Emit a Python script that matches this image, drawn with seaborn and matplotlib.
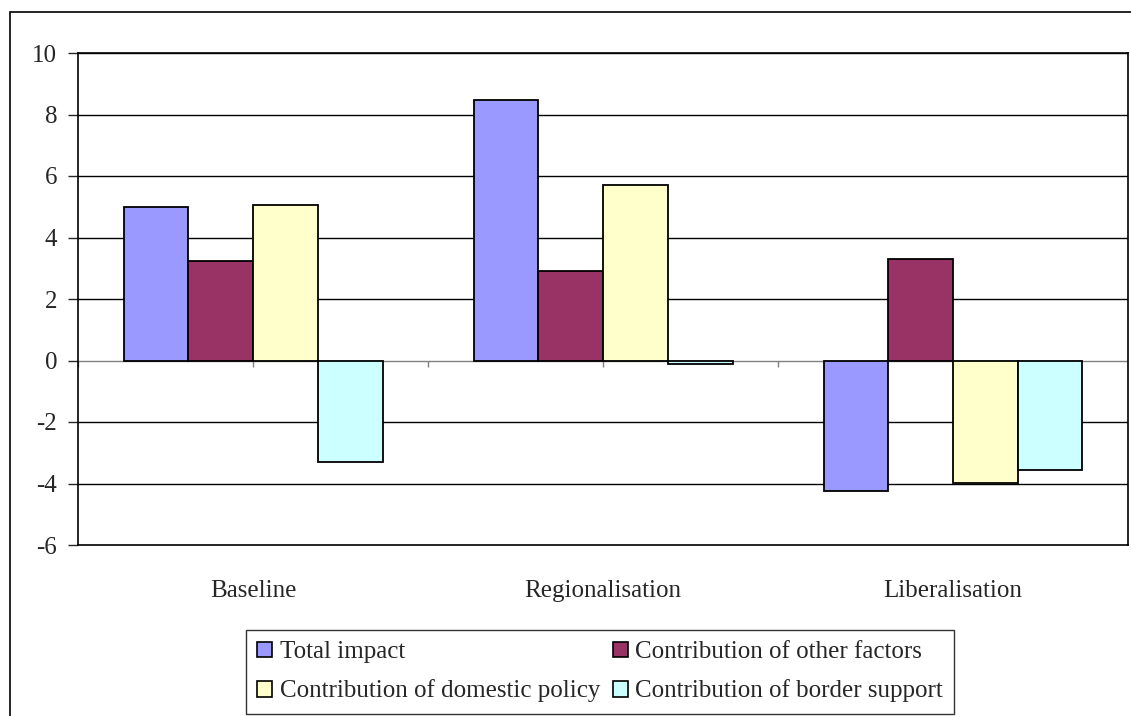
import matplotlib
matplotlib.use("Agg")
import matplotlib.pyplot as plt
import numpy as np
import pandas as pd
import seaborn as sns
from matplotlib.patches import Patch, Rectangle

scenarios = ["Baseline", "Regionalisation", "Liberalisation"]
series = [
    "Total impact",
    "Contribution of other factors",
    "Contribution of domestic policy",
    "Contribution of border support",
]
total_impact = [4.98, 8.47, -4.23]
other_factors = [3.22, 2.90, 3.29]
domestic_policy = [5.05, 5.70, -3.97]
border_support = [-3.29, -0.13, -3.55]
colors = ["#9999FF", "#993366", "#FFFFCC", "#CCFFFF"]
y_ticks = [-6, -4, -2, 0, 2, 4, 6, 8, 10]

values = [total_impact, other_factors, domestic_policy, border_support]
df = pd.DataFrame(
    [
        {"scenario": sc, "series": s, "value": v}
        for s, vals in zip(series, values)
        for sc, v in zip(scenarios, vals)
    ]
)

sns.set_style("white")
plt.rcParams["font.family"] = ["Liberation Serif", "DejaVu Serif"]
plt.rcParams["axes.unicode_minus"] = False

fig = plt.figure(figsize=(11.31, 7.16), dpi=100)
ax = fig.add_axes([78 / 1131, 1 - 545 / 716, (1128 - 78) / 1131, (545 - 53) / 716])

# gridlines behind bars
for t in y_ticks[1:]:
    ax.axhline(t, color="black" if t != 0 else "#808080", linewidth=1, zorder=0)

sns.barplot(
    data=df,
    x="scenario",
    y="value",
    hue="series",
    hue_order=series,
    order=scenarios,
    palette=colors,
    width=0.74,
    edgecolor="black",
    linewidth=1.3,
    saturation=1,
    legend=False,
    ax=ax,
    zorder=2,
)

# small category tick marks sitting on the zero line
ax.vlines(np.arange(-0.5, 2.6, 0.5), -0.22, 0, color="#808080", linewidth=1, zorder=1)

ax.set_xlim(-0.5, 2.5)
ax.set_ylim(-6, 10)
ax.set_yticks(y_ticks)
ax.set_xlabel("")
ax.set_ylabel("")
ax.tick_params(axis="x", length=0, pad=25, labelsize=18)
ax.tick_params(axis="y", length=7, width=1, direction="out", left=True, pad=8, labelsize=18)
for sp in ax.spines.values():
    sp.set_color("black")
    sp.set_linewidth(1.2)

# legend is filled column by column, so order for row-wise reading
order = [0, 2, 1, 3]
handles = [Patch(facecolor=colors[i], edgecolor="black", linewidth=1.2) for i in order]
labels = [series[i] for i in order]
fig.legend(
    handles,
    labels,
    loc="upper left",
    bbox_to_anchor=(246 / 1131, 1 - 630 / 716),
    ncol=2,
    fontsize=18,
    frameon=True,
    fancybox=False,
    edgecolor="black",
    handlelength=0.6,
    handleheight=0.6,
    handletextpad=0.3,
    columnspacing=0.5,
    borderpad=0.45,
    labelspacing=0.65,
    borderaxespad=0,
)

# outer chart border (right and bottom edges fall outside the image)
fig.patches.append(
    Rectangle((10 / 1131, -0.01), 1.0, 1 - 12 / 716 + 0.01,
              transform=fig.transFigure, fill=False, edgecolor="black", linewidth=1.2)
)

fig.savefig("out.png", dpi=100)
